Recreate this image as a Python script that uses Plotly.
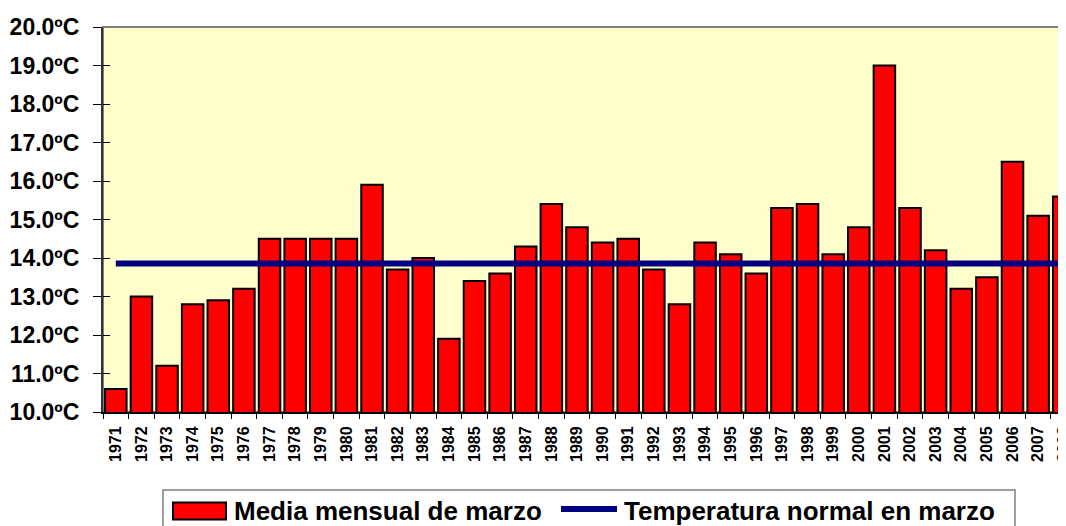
import plotly.graph_objects as go

years = [str(y) for y in range(1971, 2009)]
media_marzo = [10.6, 13.0, 11.2, 12.8, 12.9, 13.2, 14.5, 14.5, 14.5, 14.5,
               15.9, 13.7, 14.0, 11.9, 13.4, 13.6, 14.3, 15.4, 14.8, 14.4,
               14.5, 13.7, 12.8, 14.4, 14.1, 13.6, 15.3, 15.4, 14.1, 14.8,
               19.0, 15.3, 14.2, 13.2, 13.5, 16.5, 15.1, 15.6]
normal_value = 13.86
normal_marzo = [normal_value] * len(years)
y_ticks = [10, 11, 12, 13, 14, 15, 16, 17, 18, 19, 20]
y_ticktext = [f"{v:.1f}ºC" for v in y_ticks]

FONT = "Liberation Sans, Arial, sans-serif"
OFF = 8  # page body margin offset
W, H = 1066 - OFF, 526 - OFF
ML, MR, MT, MB = 103 - OFF, 0, 27 - OFF, 114
PW, PH = W - ML - MR, H - MT - MB


def px(x):
    return (x - OFF - ML) / PW


def py(y):
    return (H - MB - (y - OFF)) / PH


fig = go.Figure()
fig.add_trace(go.Bar(
    x=years, y=media_marzo, name="Media mensual de marzo",
    marker=dict(color="#FF0000", line=dict(color="#000000", width=2)),
    showlegend=False,
))
fig.add_trace(go.Scatter(
    x=years, y=normal_marzo, name="Temperatura normal en marzo",
    mode="lines", line=dict(color="#000080", width=6),
    showlegend=False,
))
# invisible trace to carry the inner tick marks axis
fig.add_trace(go.Scatter(
    x=years, y=normal_marzo, yaxis="y2", mode="lines",
    line=dict(width=0), opacity=0, hoverinfo="skip", showlegend=False,
))

shapes = [
    # plot-area border
    dict(type="rect", xref="paper", yref="paper", x0=0, x1=1.05, y0=0, y1=1,
         line=dict(color="#808080", width=2), layer="below"),
    # legend box
    dict(type="rect", xref="paper", yref="paper", x0=px(163), x1=px(1015),
         y0=py(545), y1=py(490), line=dict(color="#808080", width=1.5),
         fillcolor="white"),
    # legend symbol: bar
    dict(type="rect", xref="paper", yref="paper", x0=px(173), x1=px(226),
         y0=py(519.5), y1=py(502.5), line=dict(color="black", width=2),
         fillcolor="#FF0000"),
    # legend symbol: line
    dict(type="line", xref="paper", yref="paper", x0=px(561), x1=px(617),
         y0=py(509), y1=py(509), line=dict(color="#000080", width=6)),
]

annotations = [
    dict(xref="paper", yref="paper", x=px(232), y=py(511), xanchor="left",
         yanchor="middle", text="<b>Media mensual de marzo</b>", showarrow=False,
         font=dict(family=FONT, size=26, color="black")),
    dict(xref="paper", yref="paper", x=px(622), y=py(511), xanchor="left",
         yanchor="middle", text="<b>Temperatura normal en marzo</b>", showarrow=False,
         font=dict(family=FONT, size=26, color="black")),
]

fig.update_layout(
    width=W, height=H,
    margin=dict(l=ML, r=MR, t=MT, b=MB, autoexpand=False),
    paper_bgcolor="white",
    plot_bgcolor="#FFFFCC",
    bargap=0.16,
    showlegend=False,
    shapes=shapes,
    annotations=annotations,
    xaxis=dict(
        type="category", range=[-0.5, -0.5 + PW / 25.62], automargin=False,
        tickson="boundaries", ticks="outside", ticklen=5, tickcolor="black",
        tickwidth=1, tickangle=-90, ticklabelstandoff=6,
        showline=True, linecolor="black", linewidth=2,
        showgrid=False, zeroline=False,
        tickfont=dict(family=FONT, size=16, color="black", weight="bold"),
    ),
    yaxis=dict(
        range=[10, 20], tickvals=y_ticks, ticktext=y_ticktext, automargin=False,
        ticks="outside", ticklen=8, tickcolor="black", tickwidth=1,
        ticklabelstandoff=9,
        showline=True, linecolor="#333333", linewidth=2,
        showgrid=False, zeroline=False,
        tickfont=dict(family=FONT, size=23, color="black", weight="bold"),
    ),
    yaxis2=dict(
        overlaying="y", side="left", range=[10, 20], tickvals=y_ticks,
        ticks="inside", ticklen=7, tickcolor="black", tickwidth=1, automargin=False,
        showticklabels=False, showline=False, showgrid=False, zeroline=False,
    ),
)

fig.write_html("out.html")
